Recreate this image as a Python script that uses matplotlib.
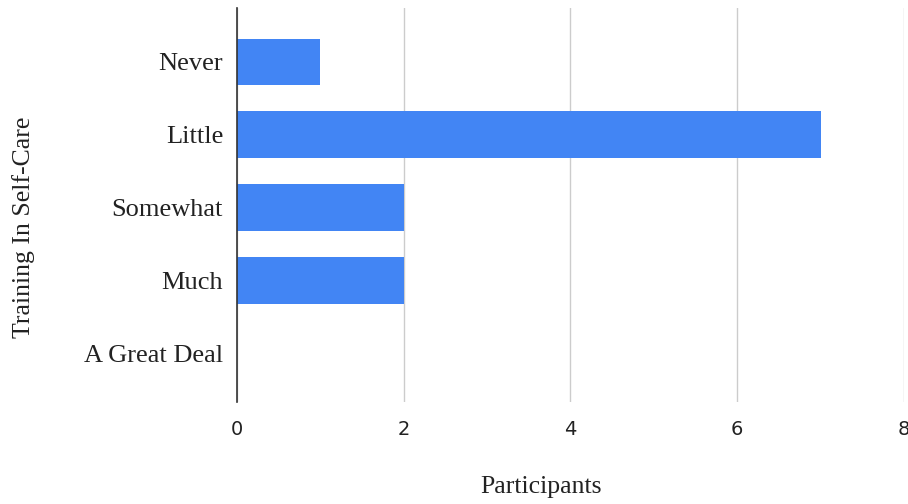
import matplotlib.pyplot as plt

# Survey responses: how much training in self-care participants received
levels = ['Never', 'Little', 'Somewhat', 'Much', 'A Great Deal']
participants = [1, 7, 2, 2, 0]
x_ticks = [0, 2, 4, 6, 8]

fig = plt.figure(figsize=(9.08, 5.04), dpi=100)
ax = fig.add_axes([0.261, 0.2024, 0.7346, 0.7816])

pos = list(range(len(levels)))
ax.barh(pos, participants, height=0.64, color='#4285F4', zorder=3)

ax.set_xlim(0, 8)
ax.set_ylim(4.67, -0.74)
ax.set_xticks(x_ticks)
ax.set_xticklabels([str(t) for t in x_ticks], fontsize=14, color='#222222',
                   family='DejaVu Sans')
ax.set_yticks(pos)
ax.set_yticklabels(levels, fontsize=19, family='Liberation Serif', color='#222222')
ax.tick_params(axis='y', length=0, pad=10)
ax.tick_params(axis='x', length=0, pad=13)

for s in ['top', 'right', 'bottom']:
    ax.spines[s].set_visible(False)
ax.spines['left'].set_color('#333333')
ax.spines['left'].set_linewidth(1.2)
ax.spines['left'].set_zorder(4)

ax.grid(axis='x', color='#cccccc', linewidth=1, zorder=0)

fig.text(0.596, 0.034, 'Participants', ha='center', va='center',
         fontsize=18.5, family='Liberation Serif', color='#222222')
fig.text(0.026, 0.548, 'Training In Self-Care', ha='center', va='center',
         rotation=90, fontsize=18.5, family='Liberation Serif', color='#222222')

fig.savefig('out.png', dpi=100)
